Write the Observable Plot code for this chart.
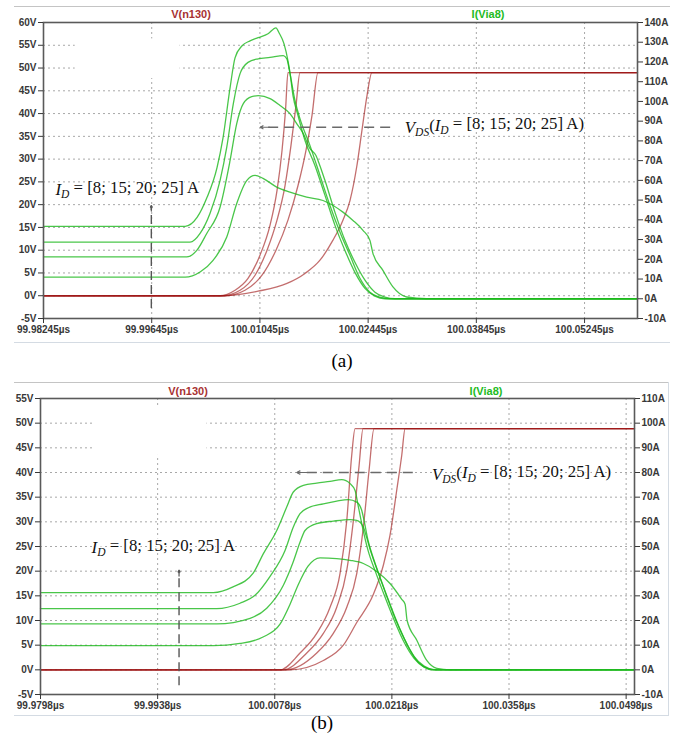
<!DOCTYPE html>
<html><head><meta charset="utf-8">
<script src="https://cdn.jsdelivr.net/npm/d3@7"></script>
<script src="https://cdn.jsdelivr.net/npm/@observablehq/plot@0.6"></script>
<style>
body{margin:0;background:#fff;width:697px;height:739px;position:relative;overflow:hidden;font-family:"Liberation Sans",Arial,sans-serif}
.panel{position:absolute;left:0}
.cap{position:absolute;font-family:"Liberation Serif","Times New Roman",serif;font-size:19px;color:#000;transform:translate(-50%,-50%)}
.ttl{position:absolute;font-family:"Liberation Sans",Arial,sans-serif;font-size:11px;font-weight:bold;transform:translate(-50%,-50%)}
.ln{position:absolute;background:#c4c4c4}
</style></head><body>
<div class="ln" style="left:14px;top:6px;width:656px;height:1px"></div>
<div class="ln" style="left:14px;top:342px;width:656px;height:1px;background:#d4dbe3"></div>
<div class="ln" style="left:14px;top:382px;width:654px;height:1px"></div>
<div class="ln" style="left:668px;top:382px;width:1px;height:333px;background:#d4dbe3"></div>
<div class="ln" style="left:14px;top:715px;width:655px;height:1px;background:#d4dbe3"></div>
<div id="pa" class="panel" style="top:0"></div>
<div id="pb" class="panel" style="top:376px"></div>
<div class="ttl" style="left:191px;top:14px;color:#a83232">V(n130)</div>
<div class="ttl" style="left:488px;top:14px;color:#22bb22">I(Via8)</div>
<div class="ttl" style="left:188px;top:391px;color:#a83232">V(n130)</div>
<div class="ttl" style="left:486px;top:391px;color:#22bb22">I(Via8)</div>
<div class="cap" style="left:342px;top:361px">(a)</div>
<div class="cap" style="left:322px;top:723px">(b)</div>
<script>
// time values are ns after 100 µs
const idLevels = [8, 15, 20, 25];
const seriesIds = ["8 A", "15 A", "20 A", "25 A"];

// ---------- panel (a) ----------
const aXTicks = [-17.55, -3.55, 10.45, 24.45, 38.45, 52.45];
const aVTicks = [-5, 0, 5, 10, 15, 20, 25, 30, 35, 40, 45, 50, 55, 60];
const aATicks = [-10, 0, 10, 20, 30, 40, 50, 60, 70, 80, 90, 100, 110, 120, 130, 140];
// green: current I(Via8) in A
const aI8 = [[-17.55,11.0],[0.77,11.0],[2.71,13.6],[4.39,19.5],[6.16,31.3],[7.45,48.3],[8.74,59.9],[9.82,62.5],[10.85,61.0],[12.62,56.6],[14.34,54.0],[16.50,51.5],[18.61,49.8],[21.19,43.9],[22.49,39.7],[23.78,34.7],[24.68,29.6],[25.07,23.0],[26.36,14.4],[27.66,6.0],[29.43,0.9],[32.01,0],[59.3,0]];
const aI15 = [[-17.55,21.2],[0.99,21.2],[2.28,24.5],[3.57,33.1],[5.29,46.4],[6.59,70.1],[7.45,88.8],[8.30,98.9],[9.39,102.4],[10.24,102.9],[11.76,101.4],[13.05,97.9],[14.34,93.8],[15.21,88.8],[16.06,83.7],[16.93,76.1],[17.70,72.6],[17.96,70.1],[18.87,59.9],[20.16,43.8],[21.45,29.6],[22.74,18.5],[24.04,9.4],[25.33,3.3],[26.62,0.8],[27.92,0],[59.3,0]];
const aI20 = [[-17.55,28.7],[1.41,28.7],[2.71,33.1],[4.00,43.3],[5.29,59.9],[6.16,76.8],[7.01,98.9],[7.88,114.1],[8.91,119.8],[10.21,121.6],[11.76,122.3],[13.48,123.2],[13.92,121.6],[14.34,114.1],[14.99,100.4],[15.63,91.3],[16.93,77.6],[18.22,62.5],[19.51,47.3],[20.81,33.7],[22.10,22.0],[23.39,10.4],[24.68,3.3],[25.98,0.8],[27.27,0],[59.3,0]];
const aI25 = [[-17.55,36.7],[0.77,36.7],[2.32,41.2],[3.61,51.4],[4.90,66.5],[5.68,81.7],[6.59,107.0],[7.23,122.1],[8.14,128.2],[9.17,130.7],[10.21,132.3],[11.50,134.3],[12.53,137.3],[12.92,134.8],[13.57,129.2],[14.08,120.6],[14.34,114.6],[14.73,102.9],[15.38,92.8],[16.28,80.2],[17.57,67.5],[18.87,52.4],[20.16,37.2],[21.45,24.5],[22.74,13.4],[24.04,5.3],[25.33,1.3],[26.62,0],[59.3,0]];
// red: voltage V(n130) in V
const aV8 = [[-17.55,0],[5.94,0],[10.21,1.0],[13.95,2.7],[16.28,4.9],[18.22,7.8],[19.90,12.2],[21.19,16.6],[22.10,20.9],[23.00,28.6],[23.65,36.3],[24.30,43.9],[24.94,49.0],[59.3,49.0]];
const aV15 = [[-17.55,0],[5.94,0],[8.52,1.2],[10.72,4.5],[12.53,10.0],[14.08,16.6],[15.38,24.2],[16.41,31.9],[17.19,39.6],[17.96,49.0],[59.3,49.0]];
const aV20 = [[-17.55,0],[5.55,0],[7.88,1.2],[9.82,4.5],[11.37,10.0],[12.66,16.6],[13.70,24.2],[14.47,33.0],[15.12,41.8],[15.63,49.0],[59.3,49.0]];
const aV25 = [[-17.55,0],[5.29,0],[7.23,1.2],[8.91,3.8],[10.46,8.9],[11.76,15.5],[12.66,23.1],[13.31,31.9],[13.76,40.7],[14.08,49.0],[59.3,49.0]];
// annotations (t, V)
const aIdLabel = [-16.0, 23.3];
const aIdArrow = [-3.6, -2.7, -3.6, 19.8];
const aVdsLabel = [29.2, 37.0];
const aVdsArrow = [27.3, 37.0, 10.5, 37.0];
const aMask = [-13.45, 0.12, 47.7, 56.4];

// ---------- panel (b) ----------
const bXTicks = [-20.2, -6.2, 7.8, 21.8, 35.8, 49.8];
const bVTicks = [-5, 0, 5, 10, 15, 20, 25, 30, 35, 40, 45, 50, 55];
const bATicks = [-10, 0, 10, 20, 30, 40, 50, 60, 70, 80, 90, 100, 110];
const bT25 = [-20.2,0.46,2.81,5.20,6.44,8.04,9.23,10.02,11.22,12.82,14.41,15.81,16.80,17.40,17.76,18.24,18.95,19.91,20.99,22.18,23.26,24.45,25.65,26.60,50.8];
const bI25 = [31.3,31.3,33.6,39.1,47.1,56.5,66.0,72.1,74.8,75.7,76.4,77.1,75.5,72.7,66.7,58.6,48.4,39.1,29.4,19.3,11.2,4.7,1.1,0,0];
const bT20 = [-20.2,0.86,3.65,5.44,7.24,9.03,10.02,10.82,11.82,13.61,15.21,16.60,17.60,18.20,18.47,18.95,19.67,20.51,21.58,22.78,23.85,24.93,26.13,27.08,50.8];
const bI20 = [24.8,24.8,27.0,30.2,37.9,48.4,57.9,63.3,65.7,67.3,68.4,69.0,68.0,64.6,60.6,52.5,44.4,36.3,26.6,16.4,8.7,3.1,0.5,0,0];
const bT15 = [-20.2,0.86,4.85,6.84,8.83,9.99,10.82,11.42,12.82,14.80,16.80,17.60,18.39,18.71,19.31,20.15,21.10,22.18,23.26,24.45,25.65,26.84,27.80,50.8];
const bI15 = [18.6,18.6,20.9,25.0,34.3,43.6,51.7,56.5,59.3,60.3,60.9,60.6,57.9,54.5,47.6,39.5,30.6,20.9,12.8,5.5,1.5,0.1,0,0];
const bT8 = [-20.2,0.46,3.65,6.40,8.43,9.63,10.58,11.78,13.21,15.21,16.80,18.39,19.99,21.58,22.98,23.38,23.62,24.78,25.97,27.17,28.76,50.8];
const bI8 = [9.8,9.8,10.7,13.3,18.5,26.6,34.3,42.0,45.4,45.1,44.4,43.1,39.9,35.0,28.6,26.6,20.0,12.0,3.8,0.6,0,0];
const bV8 = [[-20.2,0],[9.63,0],[13.61,1.9],[16.00,5.0],[17.60,9.6],[19.59,15.3],[20.78,21.2],[21.58,27.3],[22.38,36.4],[22.98,43.5],[23.38,48.9],[50.8,48.9]];
const bV15 = [[-20.2,0],[9.15,0],[12.82,3.4],[14.80,7.4],[16.41,12.7],[17.60,19.5],[18.39,28.9],[19.07,40.4],[19.67,48.9],[50.8,48.9]];
const bV20 = [[-20.2,0],[8.79,0],[11.62,3.4],[13.61,7.4],[15.21,12.7],[16.41,20.2],[17.20,30.3],[17.88,41.4],[18.35,48.9],[50.8,48.9]];
const bV25 = [[-20.2,0],[8.43,0],[10.82,3.4],[12.82,7.4],[14.41,12.7],[15.61,19.6],[16.41,30.3],[17.00,43.5],[17.40,48.9],[50.8,48.9]];
const bIdLabel = [-14.1, 24.8];
const bIdArrow = [-3.64, -3.1, -3.64, 20.2];
const bVdsLabel = [26.6, 39.6];
const bVdsArrow = [24.3, 40.0, 10.46, 40.0];
const bMask = [-13.92, -0.30, 43.46, 52.98];

const zip = (t, v) => t.map((x, i) => [x, v[i]]);
const idText = `[${idLevels.join("; ")}] A`;

function rich(svg, prefix, parts) {
  d3.select(svg).selectAll("text").filter(function() { return this.textContent.startsWith(prefix); }).each(function() {
    const el = d3.select(this);
    el.text(null);
    let inSub = false;
    for (const p of parts) {
      const ts = el.append("tspan").text(p.t);
      if (p.i) ts.attr("font-style", "italic");
      if (p.sub) {
        ts.attr("font-size", "11.5px");
        if (!inSub) { ts.attr("dy", "0.3em"); inSub = true; }
      } else if (inSub) { ts.attr("dy", "-0.3em"); inSub = false; }
    }
  });
}

function panel(el, c) {
  const gRows = c.green.flatMap((s, k) => s.map(([t, a]) => ({t, y: c.aToV(a), s: seriesIds[k]})));
  const rRows = c.red.flatMap((s, k) => s.map(([t, v]) => ({t, y: v, s: seriesIds[k]})));
  const head = (arr, dx, dy) => [{x1: arr[2] + dx, y1: arr[3] + dy, x2: arr[2], y2: arr[3]}];
  const axisStyle = {fontSize: 10, fontWeight: "bold", fontFamily: "Liberation Sans", color: "#383838", tickSize: 5, tickPadding: 2, label: null};
  const plot = Plot.plot({
    width: 697, height: 345,
    marginLeft: c.ml, marginRight: c.mr, marginTop: 22, marginBottom: 27,
    style: {fontFamily: "Liberation Sans", background: "transparent"},
    x: {domain: c.xDomain, label: null},
    y: {domain: c.yDomain, label: null},
    marks: [
      Plot.gridY(c.vTicks, {stroke: "#a8a8a8", strokeOpacity: 1, strokeDasharray: "2,3"}),
      Plot.gridX(c.xTicks, {stroke: "#a8a8a8", strokeOpacity: 1, strokeDasharray: "2,3"}),
      Plot.rect([c.mask], {x1: d => d[0], x2: d => d[1], y1: d => d[2], y2: d => d[3], fill: "white"}),
      Plot.line(rRows, {x: "t", y: "y", z: "s", stroke: "#9e1515", strokeOpacity: 0.62, strokeWidth: 1.3, curve: "monotone-x"}),
      Plot.line(gRows, {x: "t", y: "y", z: "s", stroke: "#1cb81c", strokeOpacity: 0.8, strokeWidth: 1.3, curve: "monotone-x"}),
      Plot.frame({stroke: "#5a5a5a", strokeWidth: 1.6}),
      Plot.axisY(c.vTicks, {...axisStyle, anchor: "left", tickFormat: d => d + "V"}),
      Plot.axisY(c.aTicks.map(c.aToV), {...axisStyle, anchor: "right", tickFormat: d => Math.round(c.vToA(d)) + "A"}),
      Plot.axisX(c.xTicks, {...axisStyle, tickFormat: c.xFmt}),
      Plot.link([c.idArrow], {x1: d => d[0], y1: d => d[1], x2: d => d[2], y2: d => d[3], stroke: "#555", strokeWidth: 1.4, strokeDasharray: "9,5"}),
      Plot.arrow(head(c.idArrow, 0, -1.2), {x1: "x1", y1: "y1", x2: "x2", y2: "y2", stroke: "#555", strokeWidth: 1.2, headLength: 7}),
      Plot.link([c.vdsArrow], {x1: d => d[0], y1: d => d[1], x2: d => d[2], y2: d => d[3], stroke: "#6a6a6a", strokeWidth: 1.4, strokeDasharray: "10,6"}),
      Plot.arrow(head(c.vdsArrow, 1.2, 0), {x1: "x1", y1: "y1", x2: "x2", y2: "y2", stroke: "#6a6a6a", strokeWidth: 1.2, headLength: 8}),
      Plot.text([c.idLabel], {x: d => d[0], y: d => d[1], text: () => "I_D = " + idText, textAnchor: "start", fontFamily: "Liberation Serif", fontSize: 16.8, fontWeight: "normal", fill: "#111", stroke: "white", strokeWidth: 3}),
      Plot.text([c.vdsLabel], {x: d => d[0], y: d => d[1], text: () => "V_DS(I_D = " + idText + ")", textAnchor: "start", fontFamily: "Liberation Serif", fontSize: 16.8, fontWeight: "normal", fill: "#111", stroke: "white", strokeWidth: 3})
    ]
  });
  rich(plot, "I_D", [{t: "I", i: true}, {t: "D", i: true, sub: true}, {t: " = " + idText}]);
  rich(plot, "V_DS", [{t: "V", i: true}, {t: "DS", i: true, sub: true}, {t: "("}, {t: "I", i: true}, {t: "D", i: true, sub: true}, {t: " = " + idText + ")"}]);
  document.getElementById(el).appendChild(plot);
}

panel("pa", {
  ml: 43, mr: 60, xDomain: [-17.55, 59.3], yDomain: [-5, 60],
  xTicks: aXTicks, vTicks: aVTicks, aTicks: aATicks,
  aToV: a => -5 + (a + 10) * 65 / 150, vToA: v => (v + 5) * 150 / 65 - 10,
  xFmt: d => (100 + d / 1000).toFixed(5) + "µs",
  green: [aI8, aI15, aI20, aI25], red: [aV8, aV15, aV20, aV25],
  idLabel: aIdLabel, idArrow: aIdArrow, vdsLabel: aVdsLabel, vdsArrow: aVdsArrow, mask: aMask
});
panel("pb", {
  ml: 40, mr: 63, xDomain: [-20.2, 50.8], yDomain: [-5, 55],
  xTicks: bXTicks, vTicks: bVTicks, aTicks: bATicks,
  aToV: a => a / 2, vToA: v => v * 2,
  xFmt: d => (100 + d / 1000).toFixed(4) + "µs",
  green: [zip(bT8, bI8), zip(bT15, bI15), zip(bT20, bI20), zip(bT25, bI25)], red: [bV8, bV15, bV20, bV25],
  idLabel: bIdLabel, idArrow: bIdArrow, vdsLabel: bVdsLabel, vdsArrow: bVdsArrow, mask: bMask
});
</script>
</body></html>
